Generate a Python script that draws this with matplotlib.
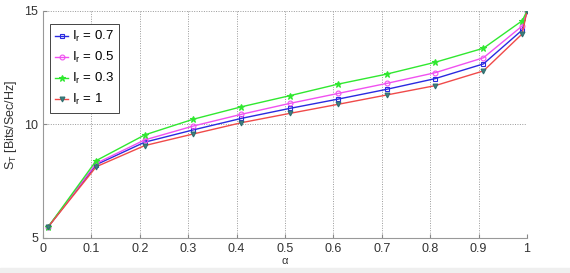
import matplotlib

matplotlib.use("Agg")
import matplotlib.pyplot as plt
from matplotlib.patches import Rectangle

# alpha values where the curves were sampled
alpha = [0.01, 0.11, 0.21, 0.31, 0.41, 0.51, 0.61, 0.71, 0.81, 0.91, 0.99, 1.0]

st_ir07 = [5.47, 8.23, 9.22, 9.76, 10.27, 10.71, 11.12, 11.55, 12.02, 12.67, 14.16, 15.0]
st_ir05 = [5.47, 8.29, 9.32, 9.93, 10.45, 10.93, 11.37, 11.81, 12.28, 12.94, 14.34, 15.0]
st_ir03 = [5.47, 8.41, 9.54, 10.23, 10.78, 11.27, 11.78, 12.22, 12.74, 13.36, 14.57, 15.0]
st_ir1 = [5.47, 8.14, 9.07, 9.58, 10.08, 10.49, 10.89, 11.30, 11.71, 12.36, 13.99, 15.0]

x_ticks = [0, 0.1, 0.2, 0.3, 0.4, 0.5, 0.6, 0.7, 0.8, 0.9, 1]
x_tick_labels = ["0", "0.1", "0.2", "0.3", "0.4", "0.5", "0.6", "0.7", "0.8", "0.9", "1"]
y_ticks = [5, 10, 15]

SERIES = [
    (st_ir07, r"I$_\mathregular{r}$ = 0.7", "#2a2ae0", "s", "#2a2ae0", "none"),
    (st_ir05, r"I$_\mathregular{r}$ = 0.5", "#f050f0", "o", "#f050f0", "none"),
    (st_ir03, r"I$_\mathregular{r}$ = 0.3", "#30e830", "*", "#30e830", "#30e830"),
    (st_ir1, r"I$_\mathregular{r}$ = 1", "#f04a4a", "v", "#2f6f6f", "#3f8080"),
]

plt.rcParams["font.family"] = ["Liberation Sans", "DejaVu Sans"]
plt.rcParams["mathtext.fontset"] = "custom"
plt.rcParams["mathtext.rm"] = "Liberation Sans"
plt.rcParams["mathtext.it"] = "Liberation Sans"

fig = plt.figure(figsize=(5.7, 2.73), dpi=100)
fig.patches.append(
    Rectangle((0, 0), 1, 5 / 273, transform=fig.transFigure, color="#efefef", zorder=0)
)
ax = fig.add_axes([43 / 570, 1 - 238 / 273, 484 / 570, 227 / 273])

for values, label, color, marker, edge, face in SERIES:
    ax.plot(
        alpha,
        values,
        color=color,
        linewidth=1.0,
        marker=marker,
        markersize=3.5 if marker != "*" else 5,
        markeredgecolor=edge,
        markerfacecolor=face,
        markeredgewidth=0.8,
        label=label,
    )

ax.set_xlim(0, 1)
ax.set_ylim(5, 15)
ax.set_xticks(x_ticks)
ax.set_xticklabels(x_tick_labels)
ax.set_yticks(y_ticks)
ax.tick_params(direction="in", length=3, labelsize=9, colors="#333333", color="#888888")
ax.grid(True, linestyle=(0, (1, 1.5)), color="#999999", linewidth=0.7)
for side in ("top", "right"):
    ax.spines[side].set_visible(False)
for side in ("left", "bottom"):
    ax.spines[side].set_color("#999999")

ax.set_xlabel(r"$\alpha$", fontsize=8, labelpad=1, color="#333333")
ax.set_ylabel(r"S$_\mathregular{T}$ [Bits/Sec/Hz]", fontsize=9, labelpad=4, color="#333333")

leg = ax.legend(
    loc="upper left",
    bbox_to_anchor=(7 / 484, 214 / 227),
    borderaxespad=0,
    fontsize=9.5,
    fancybox=False,
    edgecolor="#444444",
    framealpha=1,
    handlelength=1.0,
    handletextpad=0.25,
    labelspacing=0.45,
    borderpad=0.4,
)
leg.get_frame().set_linewidth(0.7)

fig.savefig("out.png", dpi=100)
